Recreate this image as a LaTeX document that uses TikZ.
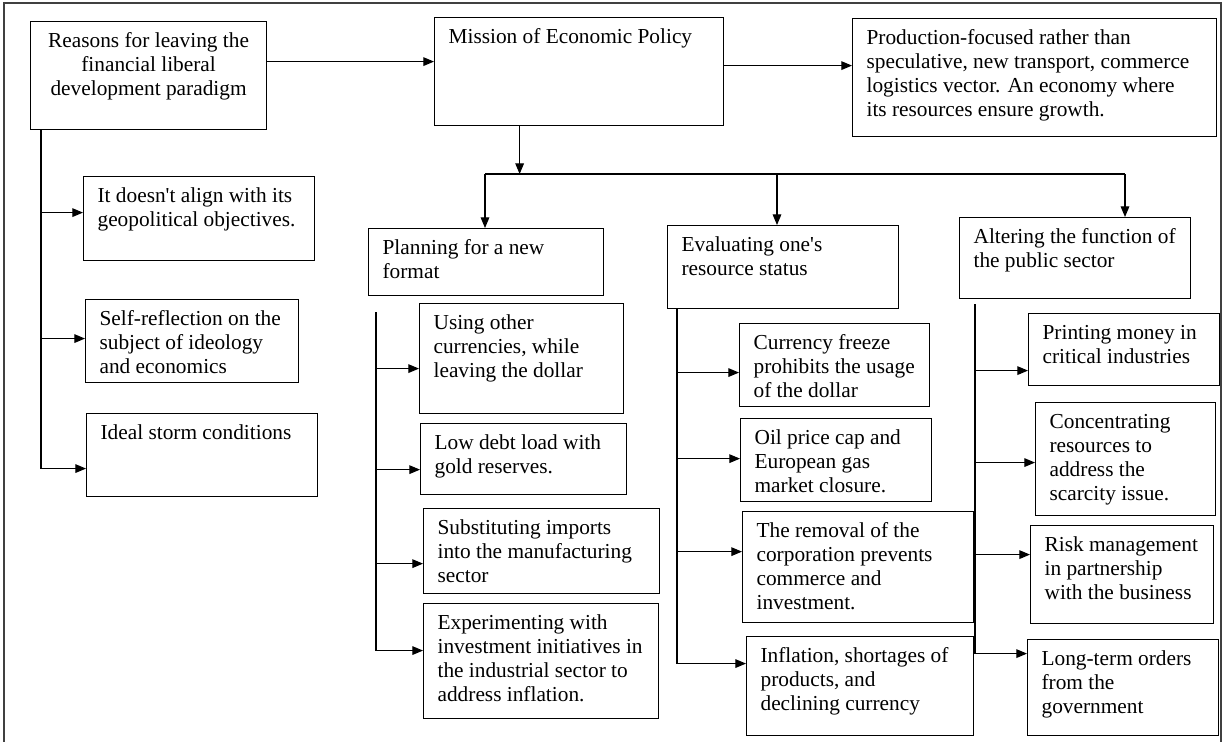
\documentclass[tikz,border=0pt]{standalone}
\usepackage{fontspec}
\setmainfont{Liberation Serif}
\usepackage{tikz}
\usetikzlibrary{arrows.meta}

\newcommand{\boxtext}[4][l]{\kern10.5pt\parbox[t][\dimexpr#3pt*3/4-14pt\relax][t]{\dimexpr#2pt*3/4-21pt\relax}{\if c#1\centering\fi\begin{tabular}[t]{@{}#1@{}}#4\end{tabular}}\kern10.5pt}

\begin{document}
\begin{tikzpicture}[x=0.75pt,y=-0.75pt,line width=0.8pt,>={Triangle[length=8pt,width=6.5pt]},
  box/.style={draw,line width=0.9pt,anchor=north west,inner xsep=0pt,inner ysep=7pt,font=\fontsize{16}{18}\selectfont}]

\useasboundingbox  (0,0)  rectangle  (1225,742);
\draw[black!75]  (4,742)  --  (4,3)  --  (1221,3)  --  (1221,742);

\node[box] (reasons) at (30,21) {\boxtext[c]{236}{108}{Reasons for leaving the\\financial liberal\\development paradigm}};
\node[box] (mission) at (434,17) {\boxtext{289}{108}{Mission of Economic Policy}};
\node[box] (production) at (852,18) {\boxtext{364}{118}{Production-focused rather than\\speculative, new transport, commerce\\logistics vector. An economy where\\its resources ensure growth.}};

\node[box] (align) at (83,176) {\boxtext{231}{84}{It doesn\textquotesingle t align with its\\geopolitical objectives.}};
\node[box] (selfref) at (85,299) {\boxtext{213}{83}{Self-reflection on the\\subject of ideology\\and economics}};
\node[box] (storm) at (86,413) {\boxtext{231}{83}{Ideal storm conditions}};

\node[box] (planning) at (368,228) {\boxtext{235}{67}{Planning for a new\\format}};
\node[box] (currencies) at (419,303) {\boxtext{204}{110}{Using other\\currencies, while\\leaving the dollar}};
\node[box] (debt) at (420,423) {\boxtext{206}{71}{Low debt load with\\gold reserves.}};
\node[box] (imports) at (423,508) {\boxtext{236}{85}{Substituting imports\\into the manufacturing\\sector}};
\node[box] (experiment) at (423,603) {\boxtext{235}{115}{Experimenting with\\investment initiatives in\\the industrial sector to\\address inflation.}};

\node[box] (evaluating) at (667,225) {\boxtext{231}{83}{Evaluating one\textquotesingle s\\resource status}};
\node[box] (currency) at (739,323) {\boxtext{190}{83}{Currency freeze\\prohibits the usage\\of the dollar}};
\node[box] (oil) at (740,418) {\boxtext{191}{83}{Oil price cap and\\European gas\\market closure.}};
\node[box] (removal) at (742,511) {\boxtext{231}{111}{The removal of the\\corporation prevents\\commerce and\\investment.}};
\node[box] (inflation) at (746,636) {\boxtext{227}{99}{Inflation, shortages of\\products, and\\declining currency}};

\node[box] (altering) at (959,217) {\boxtext{231}{81}{Altering the function of\\the public sector}};
\node[box] (printing) at (1028,313) {\boxtext{191}{72}{Printing money in\\critical industries}};
\node[box] (concentrating) at (1035,402) {\boxtext{180}{113}{Concentrating\\resources to\\address the\\scarcity issue.}};
\node[box] (risk) at (1030,525) {\boxtext{183}{98}{Risk management\\in partnership\\with the business}};
\node[box] (longterm) at (1027,639) {\boxtext{191}{96}{Long-term orders\\from the\\government}};

\draw[->]  ([yshift=10.5pt]reasons.east)  --  ([yshift=10.5pt]reasons.east -| mission.west);
\draw[->]  ([yshift=4.5pt]mission.east)  --  ([yshift=4.5pt]mission.east -| production.west);

\coordinate (md) at ([xshift=-44.6pt]mission.south);
\coordinate (bl) at (485,174);
\coordinate (bm) at (777,174);
\coordinate (br) at (1125,174);
\draw[->]  (md)  --  (md |- bl);
\draw  (bl)  --  (br);
\draw[->]  (bl)  --  (bl |- planning.north);
\draw[->]  (bm)  --  (bm |- evaluating.north);
\draw[->]  (br)  --  (br |- altering.north);

\coordinate (lt) at ([xshift=8.25pt]reasons.south west);
\draw[->]  (lt)  |-  ([yshift=-10.1pt]storm.west);
\draw[->]  ([yshift=4.5pt]align.west -| lt)  --  ([yshift=4.5pt]align.west);
\draw[->]  ([yshift=1.9pt]selfref.west -| lt)  --  ([yshift=1.9pt]selfref.west);

\coordinate (pt) at ([xshift=6pt,yshift=-12pt]planning.south west);
\draw[->]  (pt)  |-  ([yshift=7.9pt]experiment.west);
\draw[->]  ([yshift=-7.5pt]currencies.west -| pt)  --  ([yshift=-7.5pt]currencies.west);
\draw[->]  ([yshift=-7.9pt]debt.west -| pt)  --  ([yshift=-7.9pt]debt.west);
\draw[->]  ([yshift=-9.4pt]imports.west -| pt)  --  ([yshift=-9.4pt]imports.west);

\coordinate (et) at ([xshift=7.5pt]evaluating.south west);
\draw[->]  (et)  |-  ([yshift=16.9pt]inflation.west);
\draw[->]  ([yshift=-5.6pt]currency.west -| et)  --  ([yshift=-5.6pt]currency.west);
\draw[->]  ([yshift=1.1pt]oil.west -| et)  --  ([yshift=1.1pt]oil.west);
\draw[->]  ([yshift=11.6pt]removal.west -| et)  --  ([yshift=11.6pt]removal.west);

\coordinate (at) at ([xshift=12pt,yshift=-3.75pt]altering.south west);
\draw[->]  (at)  |-  ([yshift=25.5pt]longterm.west);
\draw[->]  ([yshift=-15.75pt]printing.west -| at)  --  ([yshift=-15.75pt]printing.west);
\draw[->]  ([yshift=-2.6pt]concentrating.west -| at)  --  ([yshift=-2.6pt]concentrating.west);
\draw[->]  ([yshift=15pt]risk.west -| at)  --  ([yshift=15pt]risk.west);

\end{tikzpicture}
\end{document}
